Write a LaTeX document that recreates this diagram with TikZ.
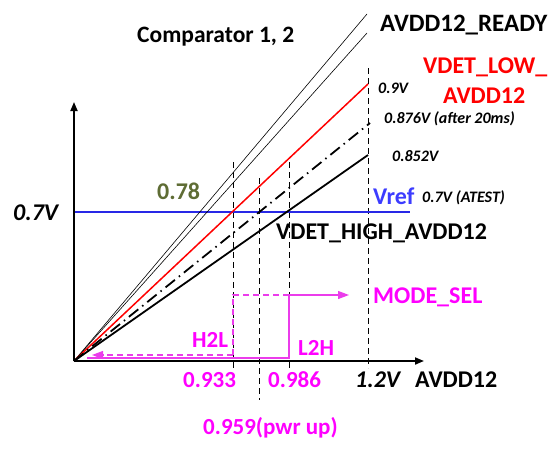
\documentclass[tikz,border=0pt]{standalone}
\usepackage{fontspec}
\setmainfont{Carlito}
\usetikzlibrary{arrows.meta}
\definecolor{vblue}{RGB}{40,40,230}
\definecolor{vtxtblue}{RGB}{60,60,255}
\definecolor{olive78}{RGB}{94,108,52}
\definecolor{mag}{RGB}{255,0,255}
\definecolor{magline}{RGB}{235,60,235}
\begin{document}
\begin{tikzpicture}[x=1pt,y=-1pt,
  big/.style={font=\fontsize{24}{28}\selectfont\bfseries, inner sep=0pt, anchor=base west},
  mid/.style={font=\fontsize{23}{27}\selectfont\bfseries, inner sep=0pt, anchor=base west},
  bigit/.style={font=\fontsize{24}{28}\selectfont\bfseries\itshape, inner sep=0pt, anchor=base west},
  small/.style={font=\fontsize{16}{19}\selectfont\bfseries\itshape, inner sep=0pt, anchor=base west},
  axis/.style={line width=1.8pt, -{Triangle[length=9pt,width=7pt]}},
  vdash/.style={line width=0.9pt, dash pattern=on 6pt off 4pt},
  thinline/.style={line width=0.6pt},
  magarrow/.style={magline, line width=1.2pt, -{Triangle[length=11pt,width=8pt]}},
  magdash/.style={magline, line width=1.2pt, dash pattern=on 6pt off 4pt},
  magsolid/.style={magline, line width=1.2pt}]
\useasboundingbox (0,0) rectangle (560,453);
% coordinates
\coordinate (O) at (74,361);
\coordinate (Ytip) at (74,102);
\coordinate (Xtip) at (424,361);
\coordinate (T1) at (367,14);
\coordinate (T2) at (367,33);
\coordinate (Rend) at (368,84);
\coordinate (Dend) at (370,123);
\coordinate (Bend) at (368,155);
\coordinate (VrefL) at (74,212);
\coordinate (VrefR) at (410,212);
\coordinate (d1t) at (233,162); \coordinate (d1b) at (233,368);
\coordinate (d2t) at (259,178); \coordinate (d2b) at (259,400);
\coordinate (d3t) at (289,162); \coordinate (d3b) at (289,368);
\coordinate (d4t) at (368,68);  \coordinate (d4b) at (368,368);
\coordinate (m1) at (233,295); \coordinate (m2) at (289,295); \coordinate (m3) at (349,295);
\coordinate (m4) at (233,355); \coordinate (m5) at (92,355);
\coordinate (m6) at (289,358); \coordinate (m7) at (87,358);
% dashed verticals
\draw[vdash] (d1t) -- (d1b);
\draw[vdash] (d2t) -- (d2b);
\draw[vdash] (d3t) -- (d3b);
\draw[vdash] (d4t) -- (d4b);
% Vref line
\draw[vblue, line width=1.5pt] (VrefL) -- (VrefR);
% curves
\draw[thinline] (O) -- (T1);
\draw[thinline] (O) -- (T2);
\draw[red, line width=1.5pt] (O) -- (Rend);
\draw[line width=1.8pt, dash pattern=on 12pt off 5pt on 1.5pt off 5pt] (O) -- (Dend);
\draw[line width=1.8pt] (O) -- (Bend);
% axes
\draw[axis] (O) -- (Ytip);
\draw[axis] (O) -- (Xtip);
% magenta
\draw[magdash] (m4) -- (m1) -- (m2);
\draw[magarrow] (m2) -- (m3);
\draw[magsolid] (m7) -- (m6) -- (m2);
\draw[magdash, -{Triangle[length=11pt,width=8pt]}] (m4) -- (m5);
% texts
\node[font=\fontsize{23.5}{28}\selectfont\bfseries, inner sep=0pt, anchor=base west] (comp) at (137,42) {Comparator 1, 2};
\node[big, font=\fontsize{25}{29}\selectfont\bfseries] (ready) at (380,31) {AVDD12\_READY};
\node[big, red] (low1) at (423,73) {VDET\_LOW\_};
\node[big, red] (low2) at (443,103) {AVDD12};
\node[small] (v09) at (378,93) {0.9V};
\node[small] (v0876) at (384,123) {0.876V (after 20ms)};
\node[small] (v0852) at (392,161) {0.852V};
\node[big, vtxtblue] (vref) at (373,204) {Vref};
\node[small] (atest) at (422,202) {0.7V (ATEST)};
\node[big, olive78] (v078) at (157,199) {0.78};
\node[bigit] (v07) at (13,220) {0.7V};
\node[big] (high) at (276,239) {VDET\_HIGH\_AVDD12};
\node[big, mag] (mode) at (373,303) {MODE\_SEL};
\node[mid, mag] (h2l) at (192,347) {H2L};
\node[mid, mag] (l2h) at (298,355) {L2H};
\node[mid, mag] (x0933) at (183,387) {0.933};
\node[mid, mag] (x0986) at (268,387) {0.986};
\node[bigit] (x12) at (355,387) {1.2V};
\node[big] (xlab) at (415,387) {AVDD12};
\node[mid, mag] (x0959) at (203,434) {0.959(pwr up)};
\end{tikzpicture}
\end{document}
